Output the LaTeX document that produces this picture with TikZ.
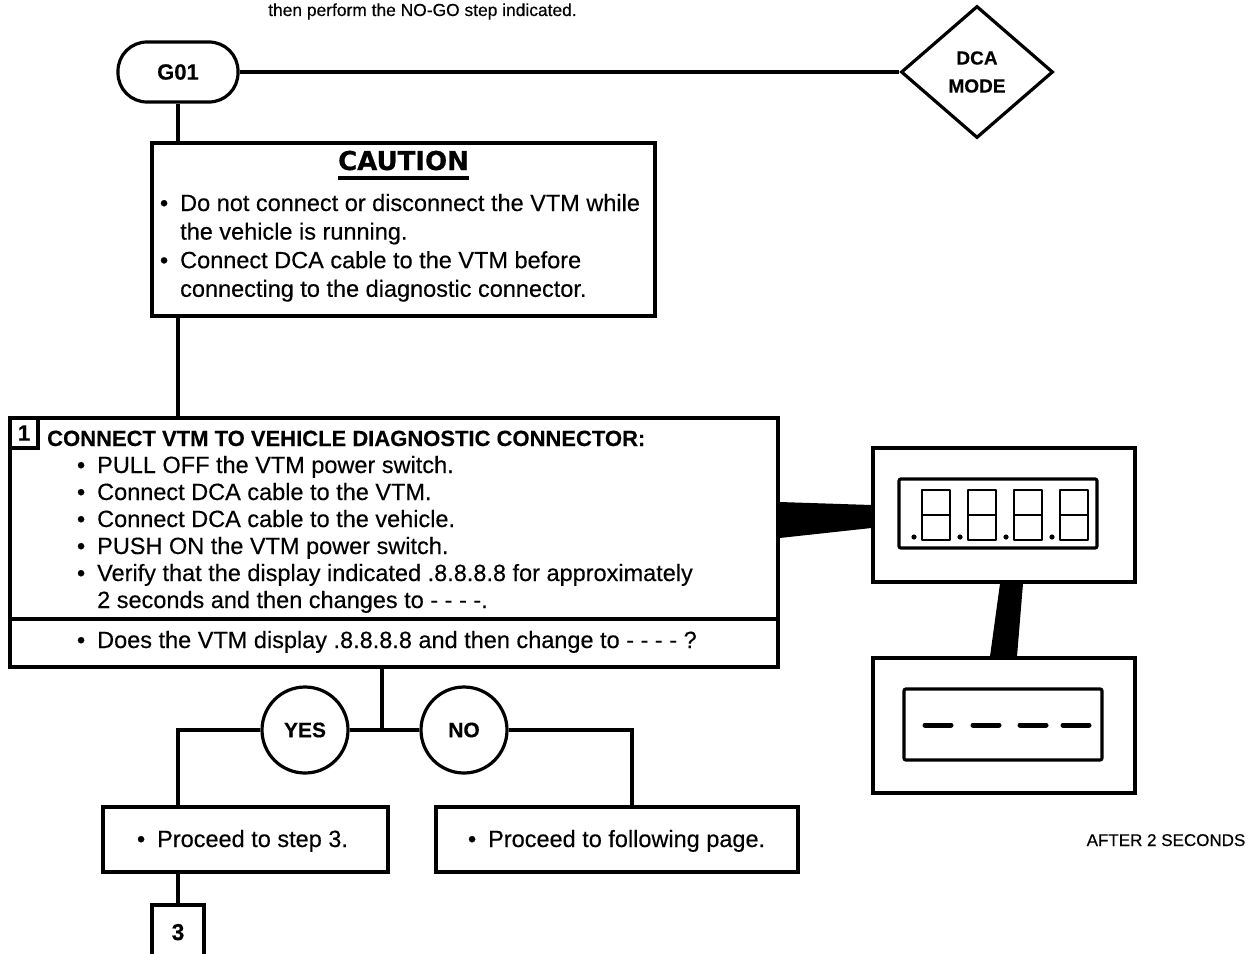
\documentclass[tikz,border=0pt]{standalone}
\usepackage{fontspec}
\setmainfont{Liberation Sans}[FakeBold=0.35]
\newfontfamily\heavyfont{DejaVu Sans}[FakeBold=0.5]
\usetikzlibrary{shapes.geometric}

\newcommand{\itm}{\llap{\textbullet\hspace{12pt}}}
\newcommand{\bodysize}{\fontsize{23.5}{27}\selectfont}

\tikzset{
  line/.style={line width=3.2pt},
  frame/.style={draw, rectangle, line width=3.2pt, inner sep=0pt},
  txt/.style={anchor=base west, inner sep=0pt, font=\bodysize},
  answer/.style={draw, circle, line width=3.2pt, minimum size=86pt, inner sep=0pt, font=\fontsize{21}{24}\selectfont\bfseries},
  segment/.style={line width=2.6pt, line join=round}
}

\begin{document}
\begin{tikzpicture}[x=1pt,y=-1pt]
  \useasboundingbox (0,0) rectangle (1249,953);
  % header line
  \node[txt, font=\fontsize{17.4}{20}\selectfont] (note) at (268,16) {then perform the NO-GO step indicated.};

  % entry point and mode
  \node[frame, rounded corners=29pt, minimum width=120pt, minimum height=60pt, font=\fontsize{22}{24}\selectfont\bfseries] (g01) at (178,72) {G01};
  \node[frame, diamond, minimum width=152pt, minimum height=132pt, align=center, font=\fontsize{19}{28}\selectfont\bfseries] (dca) at (977,72) {DCA\\MODE};
  \draw[line] (g01.east) -- (dca.west);

  % caution
  \node[frame, minimum width=503pt, minimum height=173pt] (caution) at (403.5,229.5) {};
  \node[anchor=base, inner sep=0pt, font=\heavyfont\bfseries\fontsize{26}{30}\selectfont] (cautitle) at (403.5,170) {CAUTION};
  \draw[line width=3.4pt] ([yshift=-8pt]cautitle.base west) -- ([yshift=-8pt]cautitle.base east);
  \foreach \ln [count=\i from 0] in {{\itm Do not connect or disconnect the VTM while}, {the vehicle is running.}, {\itm Connect DCA cable to the VTM before}, {connecting to the diagnostic connector.}}
    \node[txt] (caution-\i) at (180,211+28.6*\i) {\ln};
  \draw[line] (g01.south) -- (g01.south |- caution.north);
  \draw[line] (g01.south |- caution.south) -- (g01.south |- 0,418);

  % step 1
  \node[frame, minimum width=768pt, minimum height=201pt] (step1) at (394,518.5) {};
  \node[frame, minimum width=768pt, minimum height=48pt] (query) at (394,643) {};
  \node[frame, minimum width=28pt, minimum height=30pt, font=\fontsize{22}{24}\selectfont\bfseries] (num1) at (24,433) {1};
  \node[txt, font=\fontsize{22}{27}\selectfont\bfseries] (step1-head) at (47,446) {CONNECT VTM TO VEHICLE DIAGNOSTIC CONNECTOR:};
  \foreach \ln [count=\i] in {{\itm PULL OFF the VTM power switch.}, {\itm Connect DCA cable to the VTM.}, {\itm Connect DCA cable to the vehicle.}, {\itm PUSH ON the VTM power switch.}, {\itm Verify that the display indicated .8.8.8.8 for approximately}, {2 seconds and then changes to - - - -.}}
    \node[txt] (step1-\i) at (97,446+27*\i) {\ln};
  \node[txt] (query-text) at (97,648) {\itm Does the VTM display .8.8.8.8 and then change to - - - - ?};

  % yes / no
  \coordinate (split) at (382,730);
  \node[answer] (yes) at (305,730) {YES};
  \node[answer] (no) at (464,730) {NO};
  \draw[line] (query.south -| split) -- (split);
  \draw[line] (yes) -- (no);
  \node[frame, minimum width=285pt, minimum height=65pt] (goto3) at (245.5,839.5) {};
  \node[txt] (goto3-text) at (157,847) {\itm Proceed to step 3.};
  \node[frame, minimum width=362pt, minimum height=65pt] (gonext) at (617,839.5) {};
  \node[txt] (gonext-text) at (488,847) {\itm Proceed to following page.};
  \node[frame, minimum width=52pt, minimum height=60pt] (step3) at (178,935) {};
  \node[anchor=base, inner sep=0pt, font=\fontsize{23}{24}\selectfont\bfseries] (step3-num) at (178,940) {3};
  \draw[line] (yes.west) -| (step3.center |- goto3.north);
  \draw[line] (goto3.south -| step3.north) -- (step3.north);
  \draw[line] (no.east) -| ([xshift=15pt]gonext.north);

  % VTM display, at start
  \node[frame, minimum width=262pt, minimum height=134pt] (vtm-start) at (1004,515) {};
  \node[frame, minimum width=198pt, minimum height=69pt, rounded corners=2pt] (lcd-start) at (998,513.5) {};
  \foreach \i in {0,...,3} {
    \draw[segment] (922+46*\i,490) rectangle (950+46*\i,540);
    \draw[segment] (922+46*\i,515) -- (950+46*\i,515);
    \fill (914+46*\i,537) circle (2.6pt);
  }
  \fill (step1.east |- 0,502) -- (vtm-start.west |- 0,505) -- (vtm-start.west |- 0,528) -- (step1.east |- 0,538) -- cycle;

  % VTM display, after 2 seconds
  \node[frame, minimum width=262pt, minimum height=135pt] (vtm-after) at (1004,725.5) {};
  \node[frame, minimum width=198pt, minimum height=71pt, rounded corners=2pt] (lcd-after) at (1003,724.5) {};
  \foreach \x in {925,973,1020,1063}
    \draw[line width=5pt, line cap=round] (\x,725) -- (\x+26,725);
  \fill (vtm-start.south -| 1000,0) -- (vtm-start.south -| 1023,0) -- (vtm-after.north -| 1017,0) -- (vtm-after.north -| 990,0) -- cycle;
  \node[anchor=base, inner sep=0pt, font=\fontsize{17}{20}\selectfont] (after-label) at (1166,846) {AFTER 2 SECONDS};
\end{tikzpicture}
\end{document}
